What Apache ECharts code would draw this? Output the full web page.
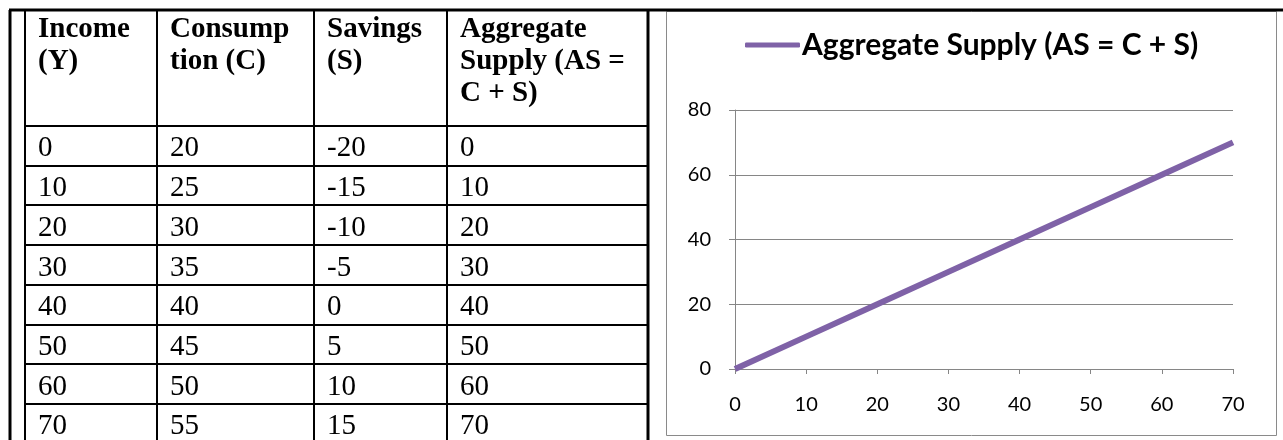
<!DOCTYPE html>
<html>
<head>
<meta charset="utf-8">
<script src="https://cdn.jsdelivr.net/npm/echarts@6/dist/echarts.min.js"></script>
<style>
  html, body { margin: 0; padding: 0; background: #ffffff; }
  #chart { width: 1283px; height: 440px; }
</style>
</head>
<body>
<div id="chart"></div>
<script>
// Schedule values: income, consumption, savings and aggregate supply
const income = [0, 10, 20, 30, 40, 50, 60, 70];
const consumption = [20, 25, 30, 35, 40, 45, 50, 55];
const savings = [-20, -15, -10, -5, 0, 5, 10, 15];
const aggregateSupply = [0, 10, 20, 30, 40, 50, 60, 70];

// Table column headings (line breaks as they wrap in the cells)
const tableHeaders = ['Income\n(Y)', 'Consump\ntion (C)', 'Savings\n(S)', 'Aggregate\nSupply (AS =\nC + S)'];
const seriesName = 'Aggregate Supply (AS = C + S)';

// Axis ranges
const xRange = { min: 0, max: 70, interval: 10 };
const yRange = { min: 0, max: 80, interval: 20 };

// ---- table drawing ----
const colX = [25, 157, 314, 447, 648];
const headerBottom = 126;
const rowH = 39.7;
const topY = 10;
const textPad = 13;
const serif = '"Liberation Serif", "DejaVu Serif", serif';

const graphics = [];
function vline(x, y1, y2, w) {
  graphics.push({ type: 'line', silent: true, shape: { x1: x, y1: y1, x2: x, y2: y2 },
    style: { stroke: '#000', lineWidth: w } });
}
function hline(y, x1, x2, w) {
  graphics.push({ type: 'line', silent: true, shape: { x1: x1, y1: y, x2: x2, y2: y },
    style: { stroke: '#000', lineWidth: w } });
}

// chart frame on the right
graphics.push({ type: 'rect', silent: true, shape: { x: 666.5, y: 11.5, width: 610, height: 424 },
  style: { fill: 'none', stroke: '#8a8a8a', lineWidth: 1 } });

// borders
hline(topY, 9, 1283, 3);
vline(10, topY, 440, 3);
vline(colX[0], topY, 440, 2);
vline(colX[1], topY, 440, 2);
vline(colX[2], topY, 440, 2);
vline(colX[3], topY, 440, 2);
vline(colX[4], topY - 1, 440, 3);
for (let i = 0; i < income.length; i++) {
  hline(Math.round(headerBottom + i * rowH), colX[0], colX[4], 2);
}

// headings
tableHeaders.forEach(function (h, c) {
  graphics.push({ type: 'text', silent: true, left: colX[c] + textPad, top: 14,
    style: { text: h, font: 'bold 29px ' + serif, fill: '#000', lineHeight: 32 } });
});

// body rows
const columns = [income, consumption, savings, aggregateSupply];
for (let r = 0; r < income.length; r++) {
  columns.forEach(function (col, c) {
    graphics.push({ type: 'text', silent: true,
      x: colX[c] + textPad, y: headerBottom + r * rowH + rowH / 2 + 3,
      style: { text: String(col[r]), font: '29px ' + serif, fill: '#000',
        textVerticalAlign: 'middle', verticalAlign: 'middle' } });
  });
}

// ---- line chart ----
const chart = echarts.init(document.getElementById('chart'), null, { renderer: 'canvas' });
const sans = 'Lato, "Open Sans", sans-serif';
const gridColor = '#868686';

chart.setOption({
  animation: false,
  backgroundColor: '#ffffff',
  legend: {
    left: 740,
    top: 25,
    icon: 'roundRect',
    itemWidth: 55,
    itemHeight: 5,
    itemGap: 0,
    textStyle: { fontFamily: sans, fontWeight: 'bold', fontSize: 30, color: '#000', padding: [0, 0, 0, -3] },
    data: [seriesName]
  },
  grid: { left: 735, right: 50, top: 110, bottom: 71, containLabel: false },
  xAxis: {
    type: 'value',
    min: xRange.min, max: xRange.max, interval: xRange.interval,
    axisLine: { show: true, lineStyle: { color: gridColor, width: 1 } },
    axisTick: { show: true, length: 5, lineStyle: { color: gridColor } },
    splitLine: { show: false },
    axisLabel: { margin: 26, fontFamily: sans, fontSize: 20, color: '#000' }
  },
  yAxis: {
    type: 'value',
    min: yRange.min, max: yRange.max, interval: yRange.interval,
    axisLine: { show: true, lineStyle: { color: gridColor, width: 1 } },
    axisTick: { show: true, length: 6, lineStyle: { color: gridColor } },
    splitLine: { show: true, lineStyle: { color: gridColor, width: 1 } },
    axisLabel: { margin: 24, fontFamily: sans, fontSize: 20, color: '#000' }
  },
  series: [{
    name: seriesName,
    type: 'line',
    data: income.map(function (x, i) { return [x, aggregateSupply[i]]; }),
    showSymbol: false,
    symbol: 'none',
    itemStyle: { color: '#7f62a7' },
    lineStyle: { color: '#7f62a7', width: 6 }
  }],
  graphic: graphics
});
</script>
</body>
</html>
